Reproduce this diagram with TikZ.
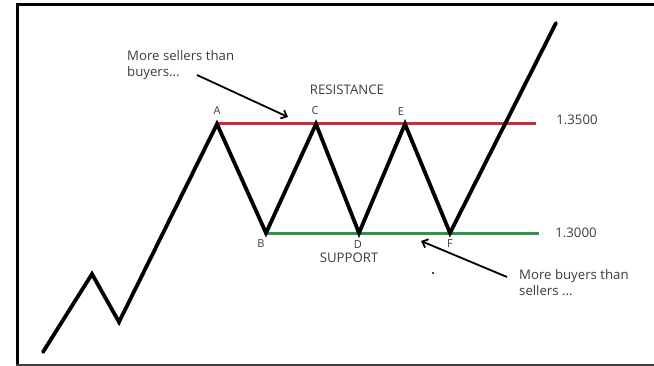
\documentclass[tikz,border=0pt]{standalone}
\usepackage{fontspec}
\setmainfont{Open Sans}
\usetikzlibrary{arrows.meta}
\definecolor{resred}{RGB}{196,45,58}
\definecolor{supgreen}{RGB}{46,150,72}
\definecolor{txt}{RGB}{60,60,60}
\begin{document}
\begin{tikzpicture}[x=1pt,y=-1pt,
  lbl/.style={font=\fontsize{13.2}{16}\selectfont, text=txt, inner sep=0pt},
  pt/.style={font=\fontsize{11}{13}\selectfont, text=txt, inner sep=0pt},
  note/.style={lbl, align=left, anchor=north west},
  price/.style={line width=3.8pt, line join=miter, line cap=round},
  level/.style={line width=3pt},
  callout/.style={line width=1.8pt, -{Straight Barb[length=5pt,width=9pt,line width=1.8pt]}}]
\useasboundingbox (0,0) rectangle (654,366);
% frame
\draw[line width=3.5pt] (17.5,366) -- (17.5,4.5) -- (654,4.5);
\draw[line width=2pt, black!75] (16,365) -- (654,365);
% levels
\coordinate (rs) at (217,124); \coordinate (re) at (536,124);
\coordinate (ss) at (264,234); \coordinate (se) at (539,234);
\draw[level, resred] (rs) -- (re);
\draw[level, supgreen] (ss) -- (se);
% price path
\coordinate (p0) at (43,352);
\coordinate (p1) at (92,274);
\coordinate (p2) at (119,322);
\coordinate (A) at (217,124);
\coordinate (B) at (266,233);
\coordinate (C) at (316,124);
\coordinate (D) at (359,233);
\coordinate (E) at (405,124);
\coordinate (F) at (450,233);
\coordinate (p9) at (556,23);
\draw[price] (p0) -- (p1) -- (p2) -- (A) -- (B) -- (C) -- (D) -- (E) -- (F) -- (p9);
% point labels
\node[pt] (lA) at (217,111) {A};
\node[pt] (lC) at (315,111) {C};
\node[pt] (lE) at (401,112) {E};
\node[pt] (lB) at (261,244) {B};
\node[pt] (lD) at (358,245) {D};
\node[pt] (lF) at (450,244) {F};
\node[lbl] (res) at (347,90) {RESISTANCE};
\node[lbl] (sup) at (349,258) {SUPPORT};
\node[lbl] (v1) at (577,120) {1.3500};
\node[lbl] (v2) at (576,233) {1.3000};
% notes
\node[note] (n1) at (127,50) {More sellers than\\buyers...};
\node[note] (n2) at (519,269) {More buyers than\\sellers ...};
\coordinate (a1s) at (197,75); \coordinate (a1e) at (288,117);
\coordinate (a2s) at (507,277); \coordinate (a2e) at (421,241);
\draw[callout] (a1s) -- (a1e);
\draw[callout] (a2s) -- (a2e);
\fill[black] (433,273) circle (1.1pt);
\end{tikzpicture}
\end{document}
